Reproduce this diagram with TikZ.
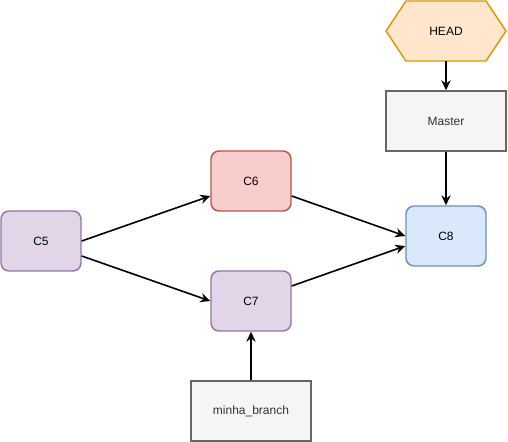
\documentclass[tikz,border=0pt]{standalone}
\usepackage{fontspec}
\setmainfont{Liberation Sans}
\usetikzlibrary{arrows.meta,calc,positioning}
\definecolor{headfill}{HTML}{FFE6CC}
\definecolor{headline}{HTML}{D79B00}
\definecolor{reffill}{HTML}{F5F5F5}
\definecolor{refline}{HTML}{666666}
\definecolor{reftext}{HTML}{333333}
\definecolor{redfill}{HTML}{F8CECC}
\definecolor{redline}{HTML}{B85450}
\definecolor{purpfill}{HTML}{E1D5E7}
\definecolor{purpline}{HTML}{9673A6}
\definecolor{bluefill}{HTML}{DAE8FC}
\definecolor{blueline}{HTML}{6C8EBF}
\tikzset{
    commit/.style={draw, rounded corners=6pt, line width=1.1pt, minimum width=60pt,
        minimum height=45pt, font=\fontsize{9}{11}\selectfont},
    ref/.style={draw=refline, fill=reffill, text=reftext, line width=1.1pt,
        minimum width=90pt, minimum height=45pt, font=\fontsize{9}{11}\selectfont},
    link/.style={line width=1.2pt, -{Stealth[length=7.5pt,width=7pt,inset=2.5pt]}}
}
\begin{document}
\begin{tikzpicture}[x=0.75pt,y=-0.75pt]

            \useasboundingbox (0,0) rectangle (508,442);

            % Draw head marker.
            \draw[line width=1.1pt, draw=headline, fill=headfill]
                (386,31) -- (406,1) -- (486,1) -- (506,31) -- (486,61) -- (406,61) -- cycle;
            \node[font=\fontsize{9}{11}\selectfont] (head) at (446,31) {HEAD};

            % Draw branch labels.
            \node[ref] (master) at (446,121) {Master};
            \node[ref] (minha) at (251,411) {minha\_branch};

            % Draw commits.
            \node[commit, draw=purpline, fill=purpfill] (c5) at (41,241) {C5};
            \node[commit, draw=redline, fill=redfill] (c6) at (251,181) {C6};
            \node[commit, draw=purpline, fill=purpfill] (c7) at (251,301) {C7};
            \node[commit, draw=blueline, fill=bluefill] (c8) at (446,236) {C8};

            % Draw links.
            \draw[link] (c5.east) -- ($(c6.west)+(0,15)$);
            \draw[link] ($(c5.east)+(0,15)$) -- (c7.west);
            \draw[link] ($(c6.east)+(0,15)$) -- (c8.west);
            \draw[link] ($(c7.east)+(0,-15)$) -- ($(c8.west)+(0,10)$);
            \draw[link] (head.south |- 0,61) -- (master.north);
            \draw[link] (master.south) -- (c8.north);
            \draw[link] (minha.north) -- (c7.south);

\end{tikzpicture}
\end{document}
